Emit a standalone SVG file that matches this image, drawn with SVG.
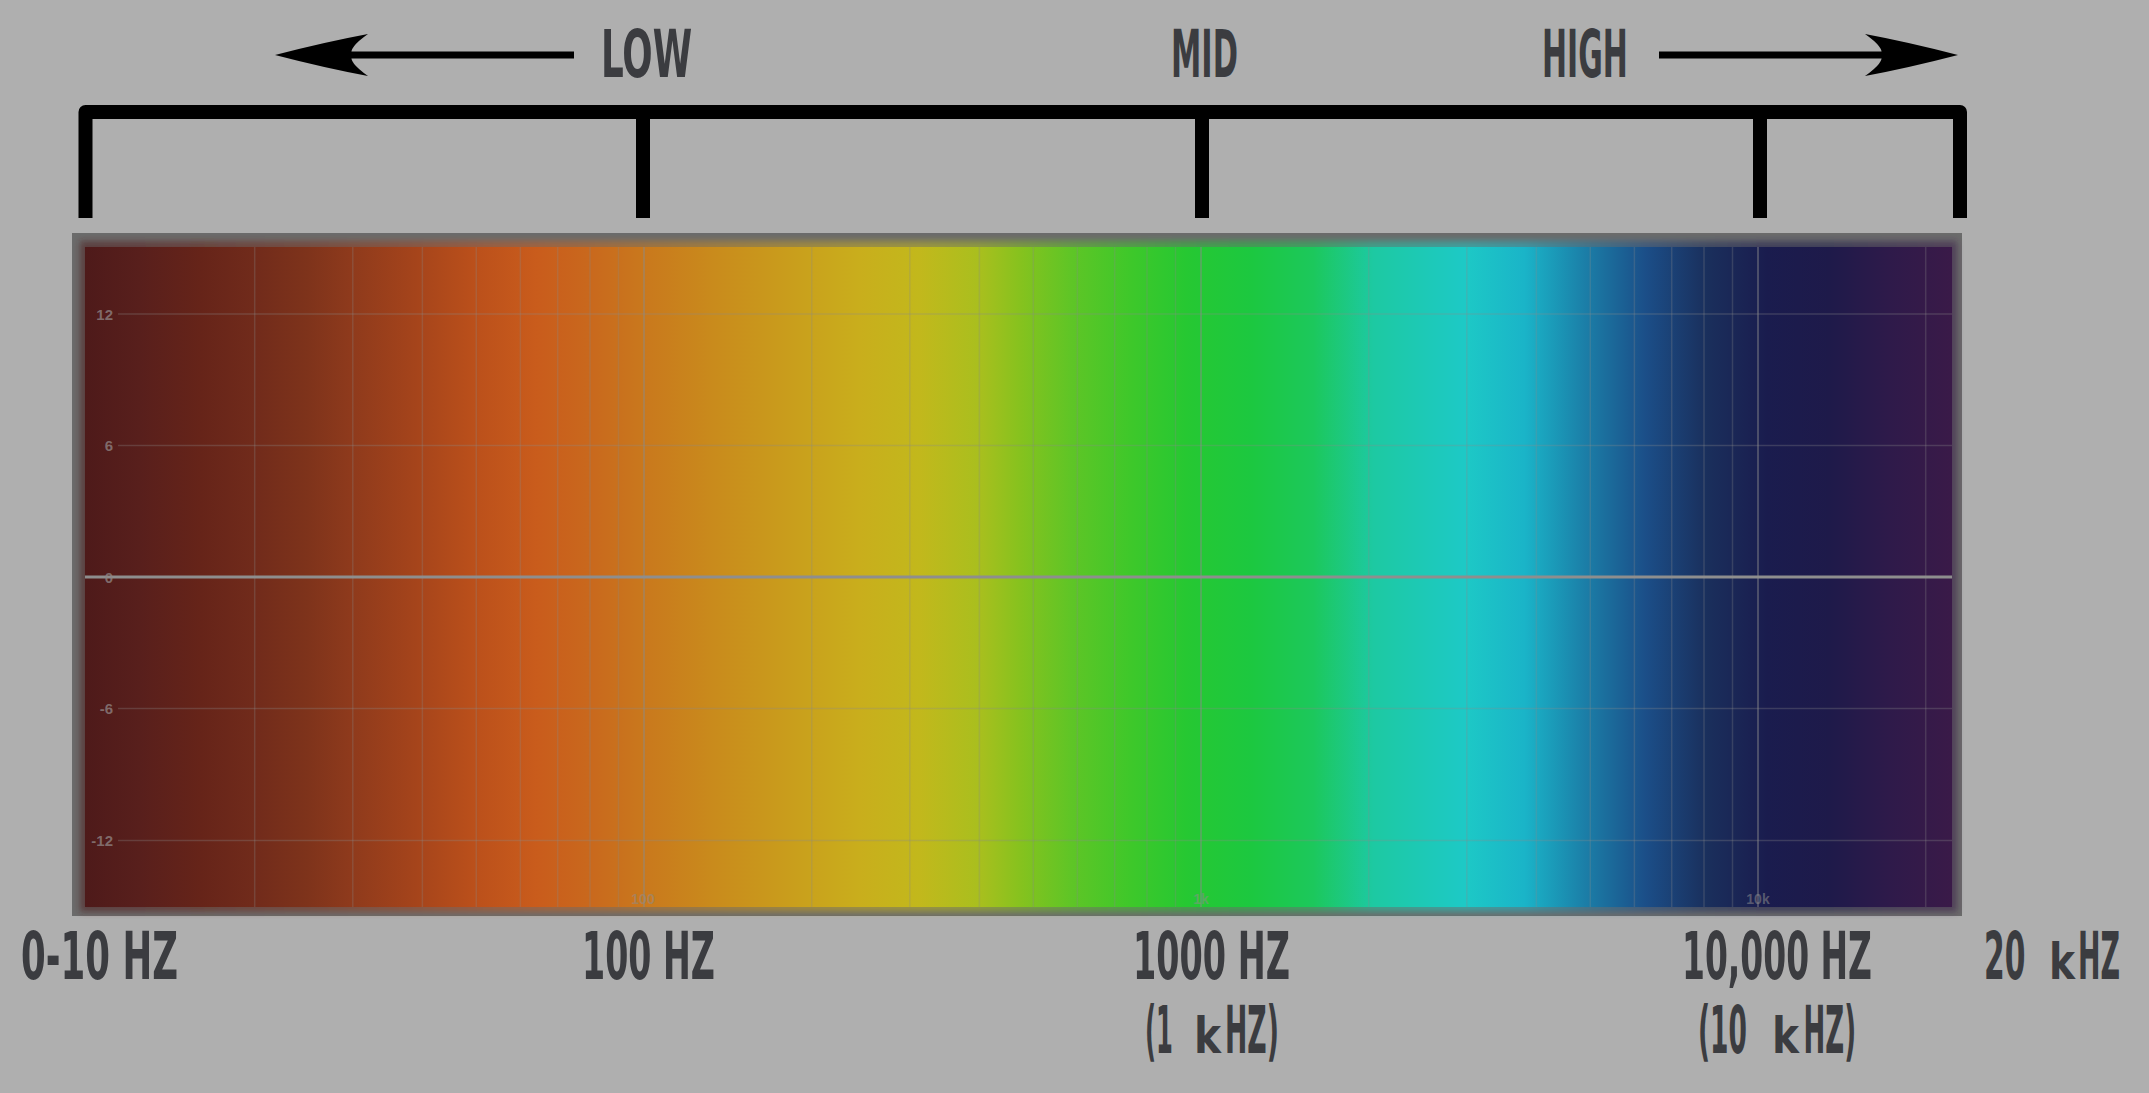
<svg xmlns="http://www.w3.org/2000/svg" width="2149" height="1093" viewBox="0 0 2149 1093">
<style>
.lbl{font-family:"Liberation Sans Narrow","DejaVu Sans Condensed","Liberation Sans",sans-serif;font-size:66px;font-weight:bold;fill:#3b3c40;}
.sk{font-size:49px;}
.db{font-family:"Liberation Sans","DejaVu Sans",sans-serif;font-size:15px;font-weight:bold;fill:#8f8585;fill-opacity:0.75;text-anchor:end;}
.fq{font-family:"Liberation Sans","DejaVu Sans",sans-serif;font-size:14px;font-weight:bold;fill:#8c8c8c;fill-opacity:0.55;text-anchor:middle;}
.vg{stroke:#8a8a8a;stroke-opacity:0.28;stroke-width:1.5;}
.vgm{stroke:#8a8a8a;stroke-opacity:0.45;stroke-width:2;}
.hg{stroke:#8a8a8a;stroke-opacity:0.3;stroke-width:1.5;}
.brk{fill:none;stroke:#000;stroke-width:14;stroke-linejoin:round;}
.tick{stroke:#000;stroke-width:14;}
</style>
<defs>
<linearGradient id="spec" x1="85" y1="0" x2="1952" y2="0" gradientUnits="userSpaceOnUse">
<stop offset="0" stop-color="#4e1a1a"/>
<stop offset="0.029" stop-color="#581f1c"/>
<stop offset="0.062" stop-color="#662419"/>
<stop offset="0.091" stop-color="#712b1b"/>
<stop offset="0.119" stop-color="#7e331b"/>
<stop offset="0.142" stop-color="#8e3a1c"/>
<stop offset="0.177" stop-color="#a5441b"/>
<stop offset="0.209" stop-color="#bb501b"/>
<stop offset="0.242" stop-color="#c95c1c"/>
<stop offset="0.270" stop-color="#c9681d"/>
<stop offset="0.299" stop-color="#c9781d"/>
<stop offset="0.335" stop-color="#c98a1c"/>
<stop offset="0.383" stop-color="#c9a01c"/>
<stop offset="0.415" stop-color="#c9ae1c"/>
<stop offset="0.447" stop-color="#c2b81c"/>
<stop offset="0.479" stop-color="#a9bf1e"/>
<stop offset="0.501" stop-color="#86c21e"/>
<stop offset="0.528" stop-color="#5fc526"/>
<stop offset="0.560" stop-color="#3ec82a"/>
<stop offset="0.590" stop-color="#26c832"/>
<stop offset="0.625" stop-color="#1cc840"/>
<stop offset="0.658" stop-color="#1cc85c"/>
<stop offset="0.690" stop-color="#1dc9a2"/>
<stop offset="0.739" stop-color="#1dc9c6"/>
<stop offset="0.771" stop-color="#1ab4c8"/>
<stop offset="0.803" stop-color="#1b7fa8"/>
<stop offset="0.836" stop-color="#1b4e88"/>
<stop offset="0.869" stop-color="#1a2f5c"/>
<stop offset="0.901" stop-color="#1a1c4e"/>
<stop offset="0.934" stop-color="#1e1a4a"/>
<stop offset="0.966" stop-color="#2e1a4a"/>
<stop offset="1" stop-color="#3a1a48"/>
</linearGradient>
<filter id="soft" x="-5%" y="-5%" width="110%" height="110%">
<feGaussianBlur stdDeviation="3"/>
</filter>
</defs>
<rect width="2149" height="1093" fill="#afafaf"/>

<g id="spectrum-panel">
<rect x="72" y="233" width="1890" height="683" fill="#6b6b6b"/>
<rect x="80" y="241" width="1877" height="671" fill="url(#spec)" opacity="0.55" filter="url(#soft)"/>
<rect x="85" y="247" width="1867" height="660" fill="url(#spec)"/>
<g id="grid-vertical">
<line class="vg" x1="254.7" y1="247" x2="254.7" y2="907"/>
<line class="vg" x1="352.8" y1="247" x2="352.8" y2="907"/>
<line class="vg" x1="422.4" y1="247" x2="422.4" y2="907"/>
<line class="vg" x1="476.3" y1="247" x2="476.3" y2="907"/>
<line class="vg" x1="520.4" y1="247" x2="520.4" y2="907"/>
<line class="vg" x1="557.7" y1="247" x2="557.7" y2="907"/>
<line class="vg" x1="590" y1="247" x2="590" y2="907"/>
<line class="vg" x1="618.5" y1="247" x2="618.5" y2="907"/>
<line class="vgm" x1="644" y1="247" x2="644" y2="907"/>
<line class="vg" x1="811.7" y1="247" x2="811.7" y2="907"/>
<line class="vg" x1="909.8" y1="247" x2="909.8" y2="907"/>
<line class="vg" x1="979.4" y1="247" x2="979.4" y2="907"/>
<line class="vg" x1="1033.3" y1="247" x2="1033.3" y2="907"/>
<line class="vg" x1="1077.4" y1="247" x2="1077.4" y2="907"/>
<line class="vg" x1="1114.7" y1="247" x2="1114.7" y2="907"/>
<line class="vg" x1="1147" y1="247" x2="1147" y2="907"/>
<line class="vg" x1="1175.5" y1="247" x2="1175.5" y2="907"/>
<line class="vgm" x1="1201" y1="247" x2="1201" y2="907"/>
<line class="vg" x1="1368.7" y1="247" x2="1368.7" y2="907"/>
<line class="vg" x1="1466.8" y1="247" x2="1466.8" y2="907"/>
<line class="vg" x1="1536.4" y1="247" x2="1536.4" y2="907"/>
<line class="vg" x1="1590.3" y1="247" x2="1590.3" y2="907"/>
<line class="vg" x1="1634.4" y1="247" x2="1634.4" y2="907"/>
<line class="vg" x1="1671.7" y1="247" x2="1671.7" y2="907"/>
<line class="vg" x1="1704" y1="247" x2="1704" y2="907"/>
<line class="vg" x1="1732.5" y1="247" x2="1732.5" y2="907"/>
<line class="vgm" x1="1758" y1="247" x2="1758" y2="907"/>
<line class="vg" x1="1925.7" y1="247" x2="1925.7" y2="907"/>
</g>
<g id="grid-horizontal">
<line class="hg" x1="118" y1="314" x2="1952" y2="314"/>
<line class="hg" x1="118" y1="445.5" x2="1952" y2="445.5"/>
<line class="hg" x1="118" y1="708.5" x2="1952" y2="708.5"/>
<line class="hg" x1="118" y1="840.5" x2="1952" y2="840.5"/>
<line x1="85" y1="577" x2="1952" y2="577" stroke="#8e8e8e" stroke-width="3"/>
</g>
<g id="db-labels">
<text class="db" x="113" y="319.5">12</text>
<text class="db" x="113" y="451">6</text>
<text class="db" x="113" y="582.5">0</text>
<text class="db" x="113" y="714">-6</text>
<text class="db" x="113" y="846">-12</text>
</g>
<g id="freq-labels">
<text class="fq" x="643" y="904">100</text>
<text class="fq" x="1201" y="904">1k</text>
<text class="fq" x="1758" y="904">10k</text>
</g>
</g>

<g id="bracket">
<path class="brk" d="M85.5,218 V112 H1960 V218"/>
<line class="tick" x1="643" y1="112" x2="643" y2="218"/>
<line class="tick" x1="1202" y1="112" x2="1202" y2="218"/>
<line class="tick" x1="1760" y1="112" x2="1760" y2="218"/>
</g>

<g id="connectors">
<g id="arrow-low">
<rect x="350" y="51.5" width="224" height="7" fill="#000"/>
<path d="M275,55 Q325,42 368,34 Q348,48 352,55 Q348,62 368,76 Q325,68 275,55 Z" fill="#000"/>
</g>
<g id="arrow-high">
<rect x="1659" y="51.5" width="224" height="7" fill="#000"/>
<path d="M1958,55 Q1908,42 1865,34 Q1885,48 1881,55 Q1885,62 1865,76 Q1908,68 1958,55 Z" fill="#000"/>
</g>
</g>

<g id="node-low"><text class="lbl" transform="translate(601,77) scale(0.65,1)" textLength="140" lengthAdjust="spacingAndGlyphs">LOW</text></g>
<g id="node-mid"><text class="lbl" transform="translate(1171,77) scale(0.65,1)" textLength="103" lengthAdjust="spacingAndGlyphs">MID</text></g>
<g id="node-high"><text class="lbl" transform="translate(1542,77) scale(0.65,1)" textLength="132" lengthAdjust="spacingAndGlyphs">HIGH</text></g>

<g id="node-0-10hz"><text class="lbl" transform="translate(21,979) scale(0.65,1)" textLength="241.5" lengthAdjust="spacingAndGlyphs">0-10 HZ</text></g>
<g id="node-100hz"><text class="lbl" transform="translate(582,979) scale(0.65,1)" textLength="204.6" lengthAdjust="spacingAndGlyphs">100 HZ</text></g>
<g id="node-1000hz">
<text class="lbl" transform="translate(1133,979) scale(0.65,1)" textLength="241.5" lengthAdjust="spacingAndGlyphs">1000 HZ</text>
<text class="lbl" transform="translate(1145,1053) scale(0.65,1)" textLength="43" lengthAdjust="spacingAndGlyphs">(1</text>
<text class="lbl sk" transform="translate(1194,1053) scale(0.65,1)" textLength="41.5" lengthAdjust="spacingAndGlyphs">k</text>
<text class="lbl" transform="translate(1225,1053) scale(0.65,1)" textLength="83" lengthAdjust="spacingAndGlyphs">HZ)</text>
</g>
<g id="node-10000hz">
<text class="lbl" transform="translate(1682,979) scale(0.65,1)" textLength="292.3" lengthAdjust="spacingAndGlyphs">10,000 HZ</text>
<text class="lbl" transform="translate(1698,1053) scale(0.65,1)" textLength="75.4" lengthAdjust="spacingAndGlyphs">(10</text>
<text class="lbl sk" transform="translate(1772,1053) scale(0.65,1)" textLength="41.5" lengthAdjust="spacingAndGlyphs">k</text>
<text class="lbl" transform="translate(1803.5,1053) scale(0.65,1)" textLength="80.8" lengthAdjust="spacingAndGlyphs">HZ)</text>
</g>
<g id="node-20khz">
<text class="lbl" transform="translate(1984,979) scale(0.65,1)" textLength="63.8" lengthAdjust="spacingAndGlyphs">20</text>
<text class="lbl sk" transform="translate(2049,979) scale(0.65,1)" textLength="40" lengthAdjust="spacingAndGlyphs">k</text>
<text class="lbl" transform="translate(2078,979) scale(0.65,1)" textLength="64.6" lengthAdjust="spacingAndGlyphs">HZ</text>
</g>
</svg>
